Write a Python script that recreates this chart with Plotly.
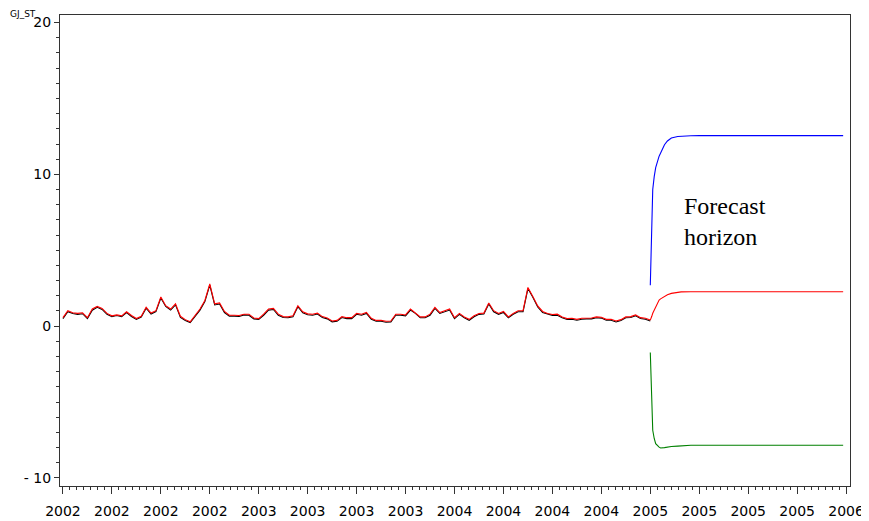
import numpy as np
import plotly.graph_objects as go

# x positions in quarters since 2002Q1
x_tick_labels = ["2002", "2002", "2002", "2002",
                 "2003", "2003", "2003", "2003",
                 "2004", "2004", "2004", "2004",
                 "2005", "2005", "2005", "2005",
                 "2006"]
y_tick_vals = [-10, 0, 10, 20]
y_tick_labels = ["- 10", "0", "10", "20"]

# in-sample fitted (red) and actual (black), 10 obs per quarter, 2002Q1..2005Q1
fitted = [0.56, 1.02, 0.88, 0.84, 0.88, 0.56, 1.13, 1.30, 1.17, 0.84,
          0.68, 0.74, 0.68, 0.95, 0.70, 0.50, 0.65, 1.24, 0.86, 1.02,
          1.92, 1.35, 1.13, 1.47, 0.65, 0.43, 0.29, 0.68, 1.13, 1.69,
          2.78, 1.47, 1.53, 0.97, 0.72, 0.72, 0.70, 0.79, 0.79, 0.54,
          0.50, 0.79, 1.13, 1.17, 0.79, 0.63, 0.61, 0.68, 1.35, 0.95,
          0.81, 0.79, 0.86, 0.63, 0.54, 0.34, 0.38, 0.63, 0.56, 0.56,
          0.84, 0.79, 0.90, 0.52, 0.38, 0.38, 0.32, 0.34, 0.79, 0.79,
          0.74, 1.13, 0.90, 0.61, 0.61, 0.79, 1.24, 0.90, 1.02, 1.13,
          0.56, 0.84, 0.61, 0.45, 0.68, 0.84, 0.86, 1.53, 1.02, 0.84,
          0.97, 0.61, 0.84, 1.02, 1.02, 2.55, 1.96, 1.33, 0.97, 0.84,
          0.77, 0.79, 0.61, 0.50, 0.52, 0.45, 0.52, 0.54, 0.54, 0.61,
          0.59, 0.45, 0.45, 0.34, 0.43, 0.61, 0.63, 0.74, 0.56, 0.52,
          0.40]
actual = [0.50, 0.95, 0.84, 0.78, 0.82, 0.50, 1.05, 1.24, 1.10, 0.78,
          0.62, 0.70, 0.62, 0.90, 0.64, 0.44, 0.60, 1.18, 0.80, 0.96,
          1.85, 1.30, 1.06, 1.40, 0.58, 0.38, 0.24, 0.62, 1.06, 1.62,
          2.70, 1.40, 1.46, 0.90, 0.66, 0.66, 0.64, 0.74, 0.72, 0.48,
          0.44, 0.72, 1.06, 1.10, 0.72, 0.57, 0.55, 0.62, 1.28, 0.88,
          0.75, 0.72, 0.80, 0.57, 0.48, 0.28, 0.32, 0.57, 0.50, 0.50,
          0.78, 0.72, 0.84, 0.46, 0.32, 0.32, 0.26, 0.28, 0.72, 0.72,
          0.68, 1.06, 0.84, 0.55, 0.55, 0.72, 1.17, 0.84, 0.95, 1.06,
          0.50, 0.78, 0.55, 0.39, 0.62, 0.78, 0.80, 1.46, 0.95, 0.78,
          0.90, 0.55, 0.78, 0.95, 0.96, 2.48, 1.90, 1.26, 0.90, 0.78,
          0.71, 0.72, 0.55, 0.44, 0.46, 0.39, 0.46, 0.48, 0.48, 0.55,
          0.53, 0.39, 0.39, 0.28, 0.37, 0.55, 0.57, 0.68, 0.50, 0.46,
          0.34]

# forecast horizon (quarters ahead of 2005Q1) with mean and bands
horizon = [0.0, 0.015, 0.03, 0.05, 0.08, 0.11, 0.18, 0.21, 0.29, 0.35,
           0.43, 0.56, 0.63, 0.83, 1.0, 2.0, 3.0, 3.94]
fc_upper = [2.7, 4.8, 7.6, 9.0, 9.85, 10.45, 11.2, 11.4, 11.95, 12.2,
            12.4, 12.5, 12.52, 12.54, 12.55, 12.55, 12.55, 12.55]
fc_mean = [0.4, 0.5, 0.65, 0.85, 1.05, 1.3, 1.72, 1.8, 1.98, 2.07,
           2.16, 2.23, 2.26, 2.27, 2.27, 2.27, 2.27, 2.27]
fc_lower = [-1.74, -3.35, -5.33, -6.86, -7.4, -7.74, -7.97, -8.03, -8.0, -7.96,
            -7.93, -7.9, -7.88, -7.85, -7.85, -7.85, -7.85, -7.85]

hist_x = np.arange(len(fitted)) / 10.0
fc_x = 12.0 + np.array(horizon)

fig = go.Figure()
fig.add_trace(go.Scatter(x=hist_x, y=actual, mode="lines",
                         line=dict(color="black", width=1.1), showlegend=False))
fig.add_trace(go.Scatter(x=hist_x, y=fitted, mode="lines",
                         line=dict(color="#ff0000", width=1.1), showlegend=False))
fig.add_trace(go.Scatter(x=fc_x, y=fc_upper, mode="lines",
                         line=dict(color="#0000ff", width=1.1), showlegend=False))
fig.add_trace(go.Scatter(x=fc_x, y=fc_mean, mode="lines",
                         line=dict(color="#ff0000", width=1.1), showlegend=False))
fig.add_trace(go.Scatter(x=fc_x, y=fc_lower, mode="lines",
                         line=dict(color="#008000", width=1.1), showlegend=False))

axis_color = "#333333"
tick_font = dict(family="DejaVu Sans", size=14, color="black")

# page body adds an 8px offset, so the figure is sized 861x513
fig.update_layout(
    width=861, height=513,
    margin=dict(l=52, r=19, t=7, b=35),
    paper_bgcolor="white", plot_bgcolor="white",
    xaxis=dict(
        range=[-0.06, 16.08], automargin=False,
        tickmode="array", tickvals=list(range(len(x_tick_labels))),
        ticktext=x_tick_labels,
        showline=True, mirror=True, linecolor=axis_color, linewidth=1,
        ticks="outside", ticklen=7, tickwidth=1, tickcolor=axis_color,
        ticklabelstandoff=5,
        tickfont=tick_font, showgrid=False, zeroline=False,
        minor=dict(dtick=1 / 7, tick0=0, ticks="outside", ticklen=3,
                   tickcolor=axis_color, tickwidth=1, showgrid=False),
    ),
    yaxis=dict(
        range=[-10.53, 20.5], automargin=False,
        tickmode="array", tickvals=y_tick_vals, ticktext=y_tick_labels,
        showline=True, mirror=True, linecolor=axis_color, linewidth=1,
        ticks="outside", ticklen=5, tickwidth=1, tickcolor=axis_color,
        tickfont=tick_font, showgrid=False, zeroline=False,
        minor=dict(dtick=1, tick0=0, ticks="outside", ticklen=3,
                   tickcolor=axis_color, tickwidth=1, showgrid=False),
    ),
    annotations=[
        dict(text="GJ_ST", xref="paper", yref="paper",
             x=-0.0646, y=1.0149, xanchor="left", yanchor="top",
             borderpad=0,
             showarrow=False, font=dict(family="DejaVu Sans", size=9, color="black")),
        dict(text="Forecast<br>horizon", xref="x", yref="y",
             x=12.64, y=6.9, xanchor="left", yanchor="middle", align="left",
             showarrow=False, font=dict(family="Liberation Serif", size=24, color="black")),
    ],
)

fig.write_html("out.html")
